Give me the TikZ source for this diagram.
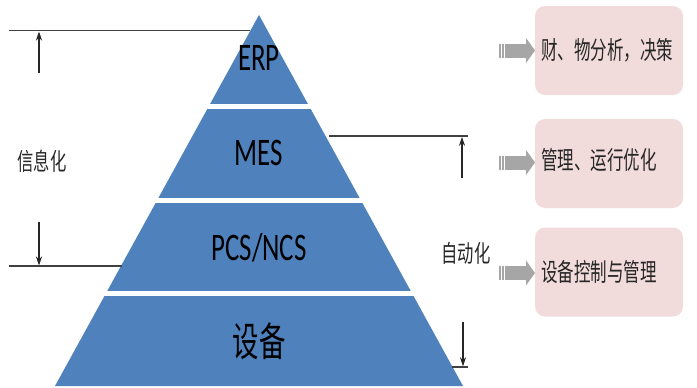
\documentclass[tikz,border=0pt]{standalone}
\usepackage{fontspec}
\usepackage{graphicx}
\setmainfont{Carlito}
\newfontfamily\cjk{Noto Sans CJK SC}
\usetikzlibrary{arrows.meta}
\definecolor{pyr}{HTML}{4F81BD}
\definecolor{pinkbox}{HTML}{F2DCDB}
\definecolor{garrow}{HTML}{A6A6A6}
\definecolor{lgray}{HTML}{404040}
\tikzset{
  lvl/.style={inner sep=0pt, text=black},
  side/.style={inner sep=0pt, text=black!85},
  pbox/.style={draw=none, fill=pinkbox, rounded corners=10pt, minimum width=148pt, minimum height=89pt, inner sep=0pt},
  btext/.style={inner sep=0pt, anchor=west, text=black!85},
  guide/.style={draw=lgray, line width=1.2pt},
  marker/.style={draw=black!85, line width=1.2pt, -{Stealth[length=9pt,width=6pt]}},
  gap/.style={fill=white}
}
\newcommand{\bigL}[1]{\scalebox{0.69}[1]{\fontsize{39pt}{39pt}\selectfont #1}}
\newcommand{\bigC}[1]{\scalebox{0.66}[1]{\fontsize{40pt}{40pt}\selectfont\cjk #1}}
\newcommand{\smallC}[1]{\scalebox{0.68}[1]{\fontsize{24pt}{24pt}\selectfont\cjk #1}}
\newcommand{\boxC}[1]{\scalebox{0.66}[1]{\fontsize{25pt}{25pt}\selectfont\cjk #1}}
\newcommand{\garrowat}[1]{%
  \fill[garrow] (499,#1-7) rectangle (526,#1+7);
  \fill[garrow] (526,#1-12.5) -- (535,#1) -- (526,#1+12.5) -- cycle;
  \draw[white, line width=0.6pt] (501.5,#1-7) -- (501.5,#1+7);
  \draw[white, line width=0.6pt] (503.8,#1-7) -- (503.8,#1+7);
}
\begin{document}
\begin{tikzpicture}[x=1pt, y=-1pt]
\useasboundingbox (0,0) rectangle (697,388);
% pyramid
\fill[pyr] (259,15) -- (463,386) -- (55,386) -- cycle;
\fill[gap] (150,104.3) rectangle (370,108.8);
\fill[gap] (100,198.3) rectangle (420,202.8);
\fill[gap] (50,291.3) rectangle (470,295.8);
% level labels
\node[lvl] (erp) at (259,58) {\bigL{ERP}};
\node[lvl] (mes) at (259,153) {\bigL{MES}};
\node[lvl] (pcs) at (259,248) {\bigL{PCS/NCS}};
\node[lvl] (dev) at (259,341) {\bigC{设备}};
% side labels
\node[side] (info) at (42,161) {\smallC{信息化}};
\node[side] (auto) at (466,253) {\smallC{自动化}};
% guide lines
\coordinate (t1) at (9,30.7); \coordinate (t2) at (250,30.7);
\coordinate (l1) at (9,266); \coordinate (l2) at (122,266);
\coordinate (r1) at (329,136); \coordinate (r2) at (468,136);
\coordinate (s1) at (452,367); \coordinate (s2) at (468,367);
\draw[guide] (t1) -- (t2);
\draw[guide] (l1) -- (l2);
\draw[guide] (r1) -- (r2);
\draw[guide] (s1) -- (s2);
% markers
\coordinate (a1s) at (39,73); \coordinate (a1e) at (39,31.5);
\coordinate (a2s) at (39,222); \coordinate (a2e) at (39,265.5);
\coordinate (a3s) at (462,178); \coordinate (a3e) at (462,136.8);
\coordinate (a4s) at (463,322); \coordinate (a4e) at (463,366.3);
\draw[marker] (a1s) -- (a1e);
\draw[marker] (a2s) -- (a2e);
\draw[marker] (a3s) -- (a3e);
\draw[marker] (a4s) -- (a4e);
% boxes
\node[pbox] (b1) at (609,50.5) {};
\node[pbox] (b2) at (609,163.5) {};
\node[pbox] (b3) at (609,272) {};
\node[btext] (t1x) at (541,50) {\boxC{财、物分析，决策}};
\node[btext] (t2x) at (541,160) {\boxC{管理、运行优化}};
\node[btext] (t3x) at (541,272) {\boxC{设备控制与管理}};
% grey arrows
\garrowat{50.5}
\garrowat{162.5}
\garrowat{273}
\end{tikzpicture}
\end{document}
